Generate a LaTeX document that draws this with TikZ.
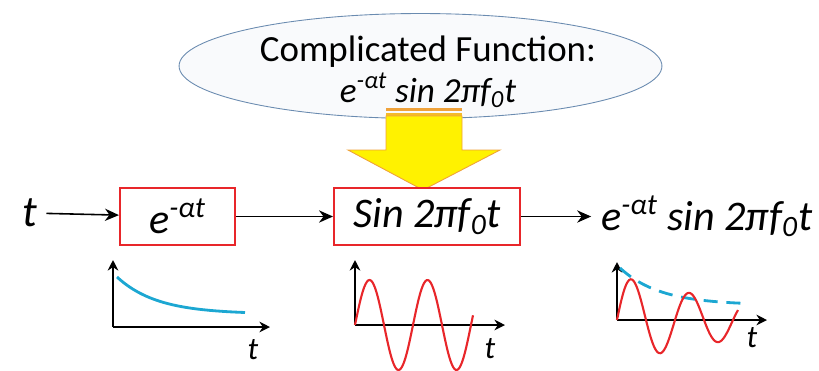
\documentclass[tikz,border=0pt]{standalone}
\usepackage{fontspec}
\setmainfont{Carlito}
\usetikzlibrary{positioning}
\usetikzlibrary{shapes.geometric}
\usetikzlibrary{arrows.meta}
\definecolor{boxred}{HTML}{E8262A}
\definecolor{decay}{HTML}{1CA7D2}
\definecolor{ellline}{HTML}{6A8BB0}
\definecolor{ellfill}{HTML}{F9FAFC}
\definecolor{bigyellow}{HTML}{FFF200}
\definecolor{bigedge}{HTML}{EFA23A}
\tikzset{
  % one block of the chain
  fnbox/.style={
    draw=boxred, line width=1.2pt, fill=white, minimum height=1.14cm,
    inner sep=0pt, font=\itshape\fontsize{24}{28}\selectfont, minimum width=#1},
  % plain signal text
  sig/.style={font=\itshape\fontsize{24}{28}\selectfont, inner sep=1pt},
  % the cloud with the full function
  cloud/.style={
    ellipse, draw=ellline, fill=ellfill, line width=0.5pt,
    minimum width=9.66cm, minimum height=2.1cm},
  % signal flow and plot axes
  flow/.style={-{Stealth[length=8pt,width=7pt]}, line width=0.9pt},
  axis/.style={-{Stealth[length=6pt,width=6pt]}, line width=1.4pt},
  curve/.style={line width=1.2pt, smooth},
  tlbl/.style={font=\itshape\fontsize{18}{20}\selectfont, inner sep=0pt},
}
\begin{document}
\begin{tikzpicture}[x=0.02cm, y=-0.02cm]
  \useasboundingbox (0,0) rectangle (819,370);

  \node[cloud] (func) at (420.5,66) {};
  \node[align=center, font=\fontsize{21}{23}\selectfont] (functxt) at (428,72)
       {Complicated Function:\\
        {\itshape\fontsize{20}{23}\selectfont e\textsuperscript{-αt} sin 2πf\textsubscript{0}t}};

  % the big yellow arrow
  \fill[bigedge] (386,108) rectangle (462,111);
  \fill[bigedge!70!bigyellow] (386,112.5) rectangle (462,116);
  \filldraw[fill=bigyellow, draw=bigedge, line width=0.5pt]
       (386,116) -- (462,116) -- (462,150) -- (500,150) -- (423,190)
       -- (348,150) -- (386,150) -- cycle;

  \node[sig, font=\itshape\fontsize{25}{29}\selectfont] (tin) at (30,213) {t};
  \node[fnbox=2.3cm] (expbox) at (177.5,216.5) {e\textsuperscript{-αt}};
  \node[fnbox=3.72cm, right=1.94cm of expbox] (sinbox) {Sin 2πf\textsubscript{0}t};
  \node[sig, right=1.56cm of sinbox] (out)
       {e\textsuperscript{-αt} sin 2πf\textsubscript{0}t};

  \draw[flow, shorten <=4pt] (tin) -- (expbox);
  \draw[flow] (expbox) -- (sinbox);
  \draw[flow, shorten >=4.5pt] (sinbox) -- (out);

  % plot under the decay block
  \coordinate (o1) at (113,327);
  \draw[axis] (o1) -- ++(0,-67);
  \draw[axis] (o1) -- ++(157,0) coordinate (x1);
  \draw[decay, curve, line width=1.6pt] plot[domain=4:132, samples=40]
       ({113+\x},{327-13-37*exp(-(\x-4)/40)});
  \node[tlbl] (t1) at (253,350) {t};

  % plot under the sine block
  \coordinate (o2) at (355,325);
  \draw[axis] (o2) -- ++(0,-65);
  \draw[axis] (o2) -- ++(150,0) coordinate (x2);
  \draw[boxred, curve] plot[domain=0:118, samples=90]
       ({355+\x},{325-45*sin(\x/58*360)});
  \node[tlbl] (t2) at (490,349) {t};

  % plot of the product
  \coordinate (o3) at (617,320);
  \draw[axis] (o3) -- ++(0,-58);
  \draw[axis] (o3) -- ++(150,0) coordinate (x3);
  \draw[decay, line width=1.6pt, dash pattern=on 8pt off 5pt] plot[smooth, domain=3:131, samples=40]
       ({617+\x},{320-15-37*exp(-(\x-3)/40)});
  \draw[boxred, curve] plot[domain=0:121, samples=90]
       ({617+\x},{320-45*exp(-0.007*\x)*sin(\x/58*360)});
  \node[tlbl] (t3) at (752,338) {t};
\end{tikzpicture}
\end{document}
